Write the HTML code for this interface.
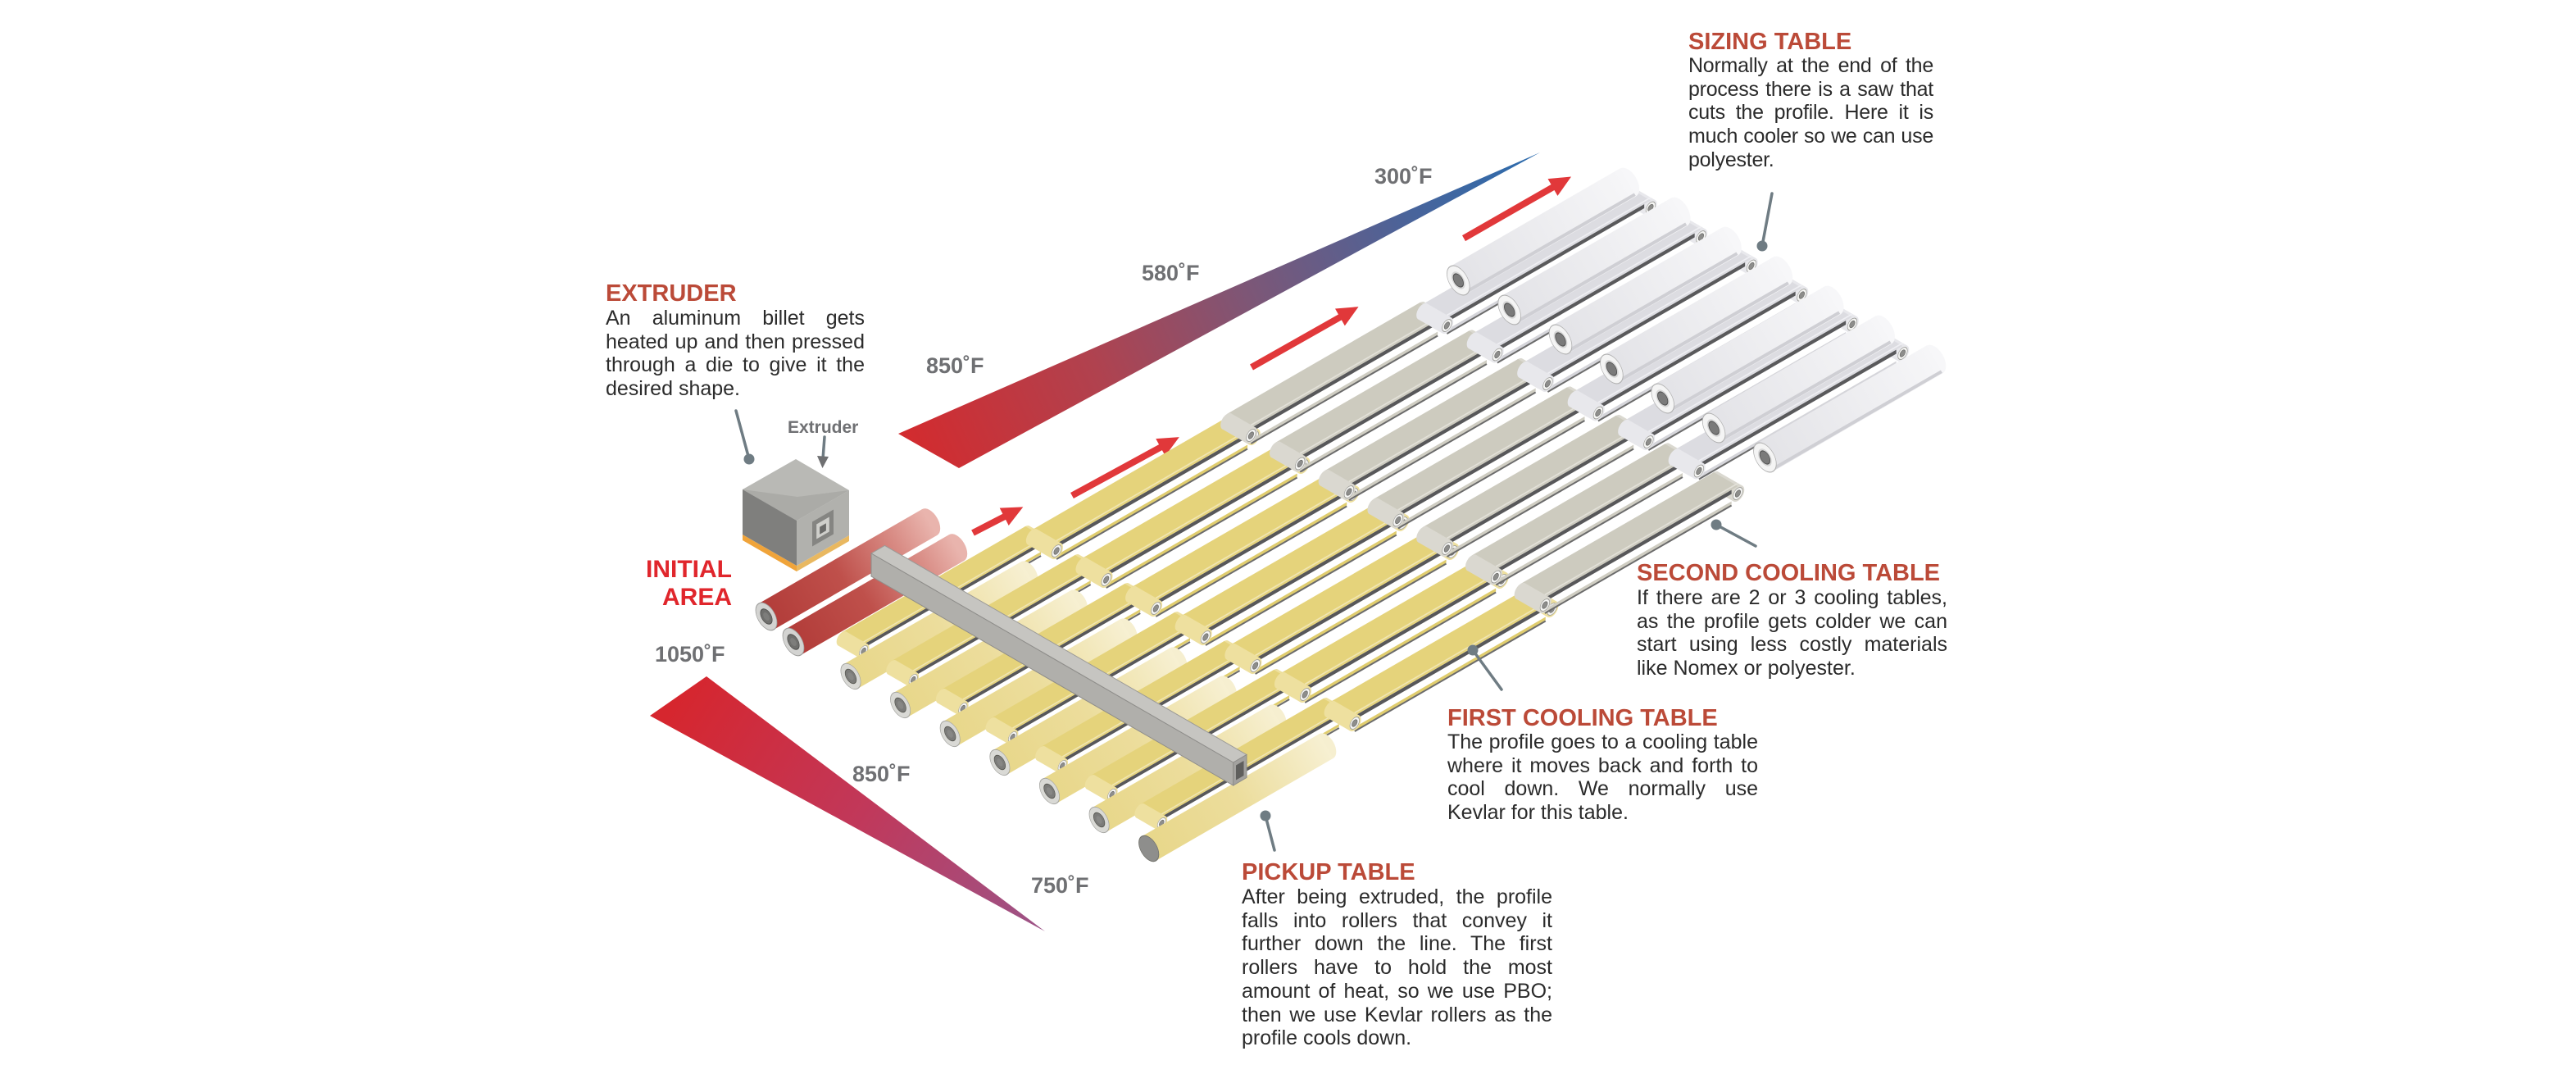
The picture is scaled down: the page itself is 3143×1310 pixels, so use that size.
<!DOCTYPE html>
<html><head><meta charset="utf-8">
<style>
html,body{margin:0;padding:0;background:#fff;}
#wrap{position:relative;width:3143px;height:1310px;overflow:hidden;background:#fff;}
svg{position:absolute;left:0;top:0;}
.t{font-family:"Liberation Sans",Arial,sans-serif;font-weight:bold;font-size:29px;fill:#bb4a38;}
.tmp{font-family:"Liberation Sans",Arial,sans-serif;font-weight:bold;font-size:27px;fill:#6f7073;}
.ini{font-family:"Liberation Sans",Arial,sans-serif;font-weight:bold;font-size:30px;fill:#e0262c;text-anchor:end;}
.lbl{font-family:"Liberation Sans",Arial,sans-serif;font-weight:bold;font-size:21px;fill:#6f7073;}
.p{position:absolute;font-family:"Liberation Sans",Arial,sans-serif;font-size:25px;line-height:28.7px;color:#2b2b2b;}
.p .j{text-align:justify;text-align-last:justify;}
</style></head><body><div id="wrap">
<svg width="3143" height="1310" viewBox="0 0 3143 1310">
<defs>
<linearGradient id="wU" gradientUnits="userSpaceOnUse" x1="1100" y1="550" x2="1879" y2="186">
<stop offset="0" stop-color="#d42a2d"/><stop offset="0.3" stop-color="#b0424f"/><stop offset="0.55" stop-color="#7b5778"/><stop offset="0.8" stop-color="#48649b"/><stop offset="1" stop-color="#2b6cae"/>
</linearGradient>
<linearGradient id="wL" gradientUnits="userSpaceOnUse" x1="827" y1="849" x2="1275" y2="1136">
<stop offset="0" stop-color="#d6262e"/><stop offset="0.5" stop-color="#c1385a"/><stop offset="1" stop-color="#9b5488"/>
</linearGradient>
<linearGradient id="gRed" gradientUnits="userSpaceOnUse" x1="0" y1="0" x2="199" y2="-115">
<stop offset="0" stop-color="#b23c39"/><stop offset="0.45" stop-color="#bf504b"/><stop offset="0.8" stop-color="#d98d86"/><stop offset="1" stop-color="#e9b4ad"/>
</linearGradient>
<linearGradient id="gYel" gradientUnits="userSpaceOnUse" x1="0" y1="0" x2="216.5" y2="-125">
<stop offset="0" stop-color="#e8d78a"/><stop offset="0.5" stop-color="#ecdd9c"/><stop offset="1" stop-color="#f7f0d2"/>
</linearGradient>
<linearGradient id="gWht" gradientUnits="userSpaceOnUse" x1="0" y1="0" x2="207" y2="-119.5">
<stop offset="0" stop-color="#e3e3e7"/><stop offset="1" stop-color="#f6f6f8"/>
</linearGradient>

<g id="pul"><circle r="0.74" fill="#f6f6f4" stroke="#9c9c98" stroke-width="0.09"/><circle r="0.42" fill="#8d8d8b" stroke="#6a6a68" stroke-width="0.08"/></g>

<!-- First cooling belt (yellow) -->
<g id="bFC">
<line x1="211.3" y1="-156" x2="240.75" y2="-139" stroke="#eee09f" stroke-width="22"/>
<circle r="1" fill="#eee09f" transform="matrix(7.794,-4.5,0,-9,211.3,-156)"/>
<circle r="1" fill="#eee09f" transform="matrix(7.794,-4.5,0,-9,240.75,-139)"/>
<use href="#pul" transform="matrix(7.794,-4.5,0,-9,240.75,-139)"/>
<polygon points="0,-9 232.95,-143.5 232.95,-138.5 0,-4" fill="#58585a"/>
<polygon points="0,5 232.95,-129.5 232.95,-125.5 0,9" fill="#e0cd6e"/>
<line x1="0" y1="10" x2="232.95" y2="-124.5" stroke="#6b6b6b" stroke-width="2"/>
<polygon points="-29.44,-26 211.3,-165 240.75,-148 0,-9" fill="#e5d37b"/>
<line x1="0" y1="-12.5" x2="240.75" y2="-151.5" stroke="#f1e6b4" stroke-width="1.6"/>
<line x1="-29.44" y1="-17" x2="0" y2="0" stroke="#eee09f" stroke-width="22"/>
<circle r="1" fill="#eee09f" transform="matrix(7.794,-4.5,0,-9,-29.44,-17)"/>
<circle r="1" fill="#eee09f" transform="matrix(7.794,-4.5,0,-9,0,0)"/>
<use href="#pul" transform="matrix(7.794,-4.5,0,-9,0,0)"/>
</g>

<!-- Second cooling belt (beige) -->
<g id="bBE">
<line x1="206.1" y1="-153" x2="235.55" y2="-136" stroke="#dad8d0" stroke-width="22"/>
<circle r="1" fill="#dad8d0" transform="matrix(7.794,-4.5,0,-9,206.1,-153)"/>
<circle r="1" fill="#dad8d0" transform="matrix(7.794,-4.5,0,-9,235.55,-136)"/>
<use href="#pul" transform="matrix(7.794,-4.5,0,-9,235.55,-136)"/>
<polygon points="0,-9 227.76,-140.5 227.76,-135.5 0,-4" fill="#58585a"/>
<polygon points="0,5 227.76,-126.5 227.76,-122.5 0,9" fill="#cfcdc2"/>
<line x1="0" y1="10" x2="227.76" y2="-121.5" stroke="#6b6b6b" stroke-width="2"/>
<polygon points="-29.44,-26 206.1,-162 235.55,-145 0,-9" fill="#cdcbbf"/>
<line x1="0" y1="-12.5" x2="235.55" y2="-148.5" stroke="#e3e1d9" stroke-width="1.6"/>
<line x1="-29.44" y1="-17" x2="0" y2="0" stroke="#dad8d0" stroke-width="22"/>
<circle r="1" fill="#dad8d0" transform="matrix(7.794,-4.5,0,-9,-29.44,-17)"/>
<circle r="1" fill="#dad8d0" transform="matrix(7.794,-4.5,0,-9,0,0)"/>
<use href="#pul" transform="matrix(7.794,-4.5,0,-9,0,0)"/>
</g>

<!-- Sizing belt (white) -->
<g id="bWH">
<line x1="219.1" y1="-160.5" x2="248.54" y2="-143.5" stroke="#e8e8ec" stroke-width="22"/>
<circle r="1" fill="#e8e8ec" transform="matrix(7.794,-4.5,0,-9,219.1,-160.5)"/>
<circle r="1" fill="#e8e8ec" transform="matrix(7.794,-4.5,0,-9,248.54,-143.5)"/>
<use href="#pul" transform="matrix(7.794,-4.5,0,-9,248.54,-143.5)"/>
<polygon points="0,-9 240.75,-148 240.75,-143 0,-4" fill="#5a5a5c"/>
<polygon points="0,5 240.75,-134 240.75,-130 0,9" fill="#d5d5da"/>
<line x1="0" y1="10" x2="240.75" y2="-129.5" stroke="#6b6b6b" stroke-width="2"/>
<polygon points="-29.44,-26 219.1,-169.5 248.54,-152.5 0,-9" fill="#dcdce1"/>
<line x1="0" y1="-12.5" x2="248.54" y2="-156" stroke="#efeff3" stroke-width="1.6"/>
<line x1="-29.44" y1="-17" x2="0" y2="0" stroke="#e8e8ec" stroke-width="22"/>
<circle r="1" fill="#e8e8ec" transform="matrix(7.794,-4.5,0,-9,-29.44,-17)"/>
<circle r="1" fill="#e8e8ec" transform="matrix(7.794,-4.5,0,-9,0,0)"/>
<use href="#pul" transform="matrix(7.794,-4.5,0,-9,0,0)"/>
</g>

<!-- Pickup belt (yellow) -->
<g id="bPK">
<line x1="197.45" y1="-144" x2="223.43" y2="-129" stroke="#eee09f" stroke-width="19.6"/>
<circle r="1" fill="#eee09f" transform="matrix(6.928,-4,0,-8,197.45,-144)"/>
<circle r="1" fill="#eee09f" transform="matrix(6.928,-4,0,-8,223.43,-129)"/>
<use href="#pul" transform="matrix(6.928,-4,0,-8,223.43,-129)"/>
<polygon points="0,-8 216.5,-133 216.5,-128.5 0,-3.5" fill="#58585a"/>
<polygon points="0,4 216.5,-121 216.5,-117.5 0,7.5" fill="#e0cd6e"/>
<line x1="0" y1="9" x2="216.5" y2="-116" stroke="#6b6b6b" stroke-width="2"/>
<polygon points="-25.98,-23 197.45,-152 223.43,-137 0,-8" fill="#e5d37b"/>
<line x1="0" y1="-11" x2="223.43" y2="-140" stroke="#f1e6b4" stroke-width="1.5"/>
<line x1="-25.98" y1="-15" x2="0" y2="0" stroke="#eee09f" stroke-width="19.6"/>
<circle r="1" fill="#eee09f" transform="matrix(6.928,-4,0,-8,-25.98,-15)"/>
<circle r="1" fill="#eee09f" transform="matrix(6.928,-4,0,-8,0,0)"/>
<use href="#pul" transform="matrix(6.928,-4,0,-8,0,0)"/>
</g>

<!-- Pickup roller -->
<g id="rPK">
<circle r="1" fill="#f6efd0" transform="matrix(12.12,7,0,-14,216.5,-125)"/>
<line x1="0" y1="0" x2="216.5" y2="-125" stroke="url(#gYel)" stroke-width="34.3"/>
<g transform="matrix(12.12,7,0,-14,0,0)"><circle r="1" fill="#d9d9d5" stroke="#a3a39f" stroke-width="0.06"/><circle r="0.56" fill="#7b7b79" stroke="#55554f" stroke-width="0.06"/><circle r="0.3" fill="#878785"/></g>
</g>

<!-- Red roller -->
<g id="rRD">
<circle r="1" fill="#e9b4ad" transform="matrix(12.99,7.5,0,-15,199.2,-115)"/>
<line x1="0" y1="0" x2="199.2" y2="-115" stroke="url(#gRed)" stroke-width="36.7"/>
<g transform="matrix(12.99,7.5,0,-15,0,0)"><circle r="1" fill="#d3d3d1" stroke="#9a9a98" stroke-width="0.06"/><circle r="0.55" fill="#6f6f6d" stroke="#4f4f4d" stroke-width="0.06"/><circle r="0.3" fill="#7d7d7b"/></g>
</g>

<!-- White roller -->
<g id="rWH">
<circle r="1" fill="#f7f7f9" transform="matrix(13.86,8,0,-16,207,-119.5)"/>
<line x1="0" y1="0" x2="207" y2="-119.5" stroke="url(#gWht)" stroke-width="39.2"/>
<line x1="8.5" y1="14.7" x2="215.5" y2="-104.8" stroke="#cfcfd4" stroke-width="4"/>
<g transform="matrix(13.86,8,0,-16,0,0)"><circle r="1" fill="#f4f4f4" stroke="#b0b0b0" stroke-width="0.06"/><circle r="0.6" fill="#d6d6d6"/><circle r="0.45" fill="#7a7a7a" stroke="#505050" stroke-width="0.06"/></g>
</g>

<path id="arr" d="M0,-4 H0 Z"/>
</defs>

<!-- temperature wedges -->
<polygon points="1096,529 1879,186 1170,571" fill="url(#wU)"/>
<polygon points="793,873 862,825 1275,1136" fill="url(#wL)"/>

<!-- arrows -->
<g fill="#e1383a">
<path transform="translate(1187,650) rotate(-27.3)" d="M0,-4 H43 V-12 L69,0 L43,12 V4 H0 Z"/>
<path transform="translate(1308,604.5) rotate(-28.6)" d="M0,-4 H123 V-12 L149,0 L123,12 V4 H0 Z"/>
<path transform="translate(1527,448) rotate(-29.5)" d="M0,-4 H124 V-12 L150,0 L124,12 V4 H0 Z"/>
<path transform="translate(1786,290.6) rotate(-29.8)" d="M0,-4 H125 V-12 L151,0 L125,12 V4 H0 Z"/>
</g>

<!-- extruder box -->
<polygon points="906,652 972,690 972,697 906,659" fill="#f0a43a"/>
<polygon points="972,690 1036,653 1036,660 972,697" fill="#e9b860"/>
<polygon points="971,560 1036,598 972,635 906,597" fill="#b9b9b5"/>
<polygon points="906,597 973,606 1036,598 972,635" fill="#ababa7"/>
<polygon points="906,597 972,635 972,690 906,652" fill="#7f7f7d"/>
<polygon points="972,635 1036,598 1036,653 972,690" fill="#b1b1ad"/>
<polygon points="991,636.5 1017,621.5 1017,651.5 991,666.5" fill="#858582"/>
<polygon points="996.2,639.5 1011.8,630.5 1011.8,648.5 996.2,657.5" fill="#cfcfcb"/>
<polygon points="1000.1,642.75 1007.9,638.25 1007.9,647.25 1000.1,651.75" fill="#6b6b69"/>

<!-- red rollers -->
<use href="#rRD" x="935" y="752"/>
<use href="#rRD" x="968" y="783"/>

<!-- pickup table -->
<use href="#bPK" x="1053.6" y="794"/><use href="#rPK" x="1038" y="825"/>
<use href="#bPK" x="1114.2" y="829"/><use href="#rPK" x="1098.6" y="860"/>
<use href="#bPK" x="1174.8" y="864"/><use href="#rPK" x="1159.2" y="895"/>
<use href="#bPK" x="1235.5" y="899"/><use href="#rPK" x="1219.9" y="930"/>
<use href="#bPK" x="1296.1" y="934"/><use href="#rPK" x="1280.5" y="965"/>
<use href="#bPK" x="1356.7" y="969"/><use href="#rPK" x="1341.1" y="1000"/>
<use href="#bPK" x="1417.3" y="1004"/><use href="#rPK" x="1401.7" y="1035"/>
<circle r="1" fill="#8e8e8c" stroke="#76766f" stroke-width="0.07" transform="matrix(12.12,7,0,-14,1401.7,1035)"/>

<!-- gray beam -->
<polygon points="1063,675 1079.5,665.5 1521,920.5 1504.7,930" fill="#c6c5c1" stroke="#9b9a97" stroke-width="1"/>
<polygon points="1063,675 1504.7,930 1504.7,958 1063,703" fill="#b0afab" stroke="#8e8d8a" stroke-width="1"/>
<polygon points="1504.7,930 1521,920.5 1521,948.5 1504.7,958" fill="#a3a29f" stroke="#8e8d8a" stroke-width="1"/>
<polygon points="1508,933.5 1517.5,928 1517.5,946 1508,951.5" fill="#5f5f5d"/>

<!-- first cooling table -->
<use href="#bFC" x="1289.1" y="672"/>
<use href="#bFC" x="1349.7" y="707"/>
<use href="#bFC" x="1410.3" y="742"/>
<use href="#bFC" x="1470.9" y="777"/>
<use href="#bFC" x="1531.6" y="812"/>
<use href="#bFC" x="1592.2" y="847"/>
<use href="#bFC" x="1652.8" y="882"/>

<!-- second cooling table -->
<use href="#bBE" x="1526.4" y="531"/>
<use href="#bBE" x="1586.2" y="565.5"/>
<use href="#bBE" x="1645.9" y="600"/>
<use href="#bBE" x="1705.7" y="634.5"/>
<use href="#bBE" x="1765.4" y="669"/>
<use href="#bBE" x="1825.2" y="703.5"/>
<use href="#bBE" x="1884.9" y="738"/>

<!-- sizing table -->
<use href="#bWH" x="1765.4" y="397"/>
<use href="#bWH" x="1826.9" y="432.5"/>
<use href="#bWH" x="1888.4" y="468"/>
<use href="#bWH" x="1949.9" y="503.5"/>
<use href="#bWH" x="2011.4" y="539"/>
<use href="#bWH" x="2072.9" y="574.5"/>
<use href="#rWH" x="1779.3" y="342"/>
<use href="#rWH" x="1841.7" y="378"/>
<use href="#rWH" x="1904" y="414"/>
<use href="#rWH" x="1966.4" y="450"/>
<use href="#rWH" x="2028.7" y="486"/>
<use href="#rWH" x="2091.1" y="522"/>
<use href="#rWH" x="2153.4" y="558"/>

<!-- callout pins -->
<g stroke="#6f7c83" stroke-width="3.5" fill="none" stroke-linecap="round">
<line x1="898" y1="501" x2="914" y2="560"/>
<line x1="2162" y1="236" x2="2150" y2="300"/>
<line x1="2094" y1="640" x2="2142" y2="666"/>
<line x1="1797" y1="793" x2="1832" y2="841"/>
<line x1="1544" y1="995" x2="1555" y2="1037"/>
<line x1="1006" y1="533" x2="1004" y2="560"/>
</g>
<g fill="#6f7c83">
<circle cx="914" cy="560" r="6.5"/>
<circle cx="2150" cy="300" r="6.5"/>
<circle cx="2094" cy="640" r="6.5"/>
<circle cx="1797" cy="793" r="6.5"/>
<circle cx="1544" cy="995" r="6.5"/>
<polygon points="997,556 1011,557 1003.5,571" fill="#6f7072"/>
</g>

<!-- titles / labels -->
<text class="t" x="739" y="367">EXTRUDER</text>
<text class="t" x="2060" y="60">SIZING TABLE</text>
<text class="t" x="1997" y="708">SECOND COOLING TABLE</text>
<text class="t" x="1766" y="885">FIRST COOLING TABLE</text>
<text class="t" x="1515" y="1073">PICKUP TABLE</text>

<text class="tmp" x="1677" y="224">300˚F</text>
<text class="tmp" x="1393" y="342">580˚F</text>
<text class="tmp" x="1130" y="455">850˚F</text>
<text class="tmp" x="799" y="807">1050˚F</text>
<text class="tmp" x="1040" y="953">850˚F</text>
<text class="tmp" x="1258" y="1089">750˚F</text>

<text class="ini" x="893" y="704">INITIAL</text>
<text class="ini" x="893" y="738">AREA</text>
<text class="lbl" x="961" y="528">Extruder</text>
</svg>

<div class="p" style="left:739px;top:374px;width:316px">
<div class="j">An aluminum billet gets</div>
<div class="j">heated up and then pressed</div>
<div class="j">through a die to give it the</div>
<div>desired shape.</div>
</div>

<div class="p" style="left:2060px;top:66px;width:299px;letter-spacing:-0.25px">
<div class="j">Normally at the end of the</div>
<div class="j">process there is a saw that</div>
<div class="j">cuts the profile. Here it is</div>
<div class="j">much cooler so we can use</div>
<div>polyester.</div>
</div>

<div class="p" style="left:1997px;top:715px;width:379px">
<div class="j">If there are 2 or 3 cooling tables,</div>
<div class="j">as the profile gets colder we can</div>
<div class="j">start using less costly materials</div>
<div>like Nomex or polyester.</div>
</div>

<div class="p" style="left:1766px;top:891px;width:379px">
<div class="j">The profile goes to a cooling table</div>
<div class="j">where it moves back and forth to</div>
<div class="j">cool down. We normally use</div>
<div>Kevlar for this table.</div>
</div>

<div class="p" style="left:1515px;top:1080px;width:379px">
<div class="j">After being extruded, the profile</div>
<div class="j">falls into rollers that convey it</div>
<div class="j">further down the line. The first</div>
<div class="j">rollers have to hold the most</div>
<div class="j">amount of heat, so we use PBO;</div>
<div class="j">then we use Kevlar rollers as the</div>
<div>profile cools down.</div>
</div>

</div></body></html>
